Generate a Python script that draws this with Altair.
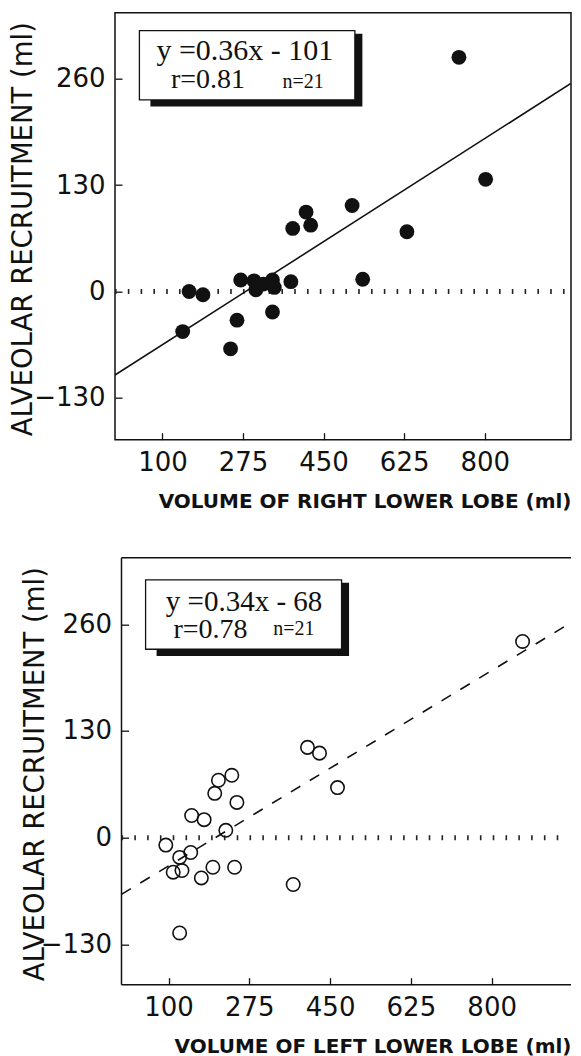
import altair as alt
import pandas as pd

# ---------------- data ----------------
x_ticks = [100, 275, 450, 625, 800]
y_ticks = [-130, 0, 130, 260]

# right lower lobe (top panel, filled dots)
rll_volume = [744, 802, 512, 412, 422, 383, 631, 270, 299, 303, 319,
              339, 343, 379, 535, 158, 188, 144, 262, 248, 339]
rll_recruit = [286, 137, 105, 97, 81, 77, 73, 14, 13, 2, 9,
               14, 5, 12, 15, 0, -4, -49, -35, -70, -25]
rll_fit_x = [-3, 987]
rll_fit_y = [-102, 254]

# left lower lobe (bottom panel, open circles)
lll_volume = [867, 401, 427, 466, 237, 208, 200, 248, 150, 177, 224,
              94, 148, 124, 110, 129, 171, 196, 243, 370, 124]
lll_recruit = [239, 110, 103, 61, 76, 70, 54, 43, 27, 22, 9,
               -9, -18, -24, -42, -40, -49, -36, -36, -57, -116]
lll_fit_x = [-2, 972]
lll_fit_y = [-69, 262]

rll_eq = ["y =0.36x - 101", "r=0.81", "n=21"]
lll_eq = ["y =0.34x - 68", "r=0.78", "n=21"]

H = 427
INK = "#111111"


def panel(vol, rec, fit_x, fit_y, xdom, xrange, ydom, width, zero_x, filled,
          dashed, xtitle, box, eq, eqpos, eqsize, ytitle_x, xtitle_x, axoff,
          guard, open_right):
    xs = alt.Scale(domain=xdom, range=xrange, nice=False, zero=False)
    ys = alt.Scale(domain=ydom, nice=False, zero=False)
    xax = alt.Axis(values=x_ticks, offset=-7, tickSize=7, labelPadding=10,
                   title=xtitle, titleX=xtitle_x, titleY=75, titleAlign="right",
                   titleBaseline="alphabetic", titleFontWeight="bold",
                   titleFontSize=20)
    yax = alt.Axis(values=y_ticks, offset=-axoff, tickSize=7, labelPadding=10,
                   title="ALVEOLAR RECRUITMENT (ml)", titleAngle=270,
                   titleX=ytitle_x, titleY=216, titleAlign="center",
                   titleBaseline="middle", titleFontWeight="normal",
                   titleFontSize=27.5)

    def X(f="v"):
        return alt.X(f"{f}:Q", scale=xs, axis=xax)

    def Y(f="r"):
        return alt.Y(f"{f}:Q", scale=ys, axis=yax)

    layers = []
    if guard is not None:
        layers.append(alt.Chart(pd.DataFrame({"a": [0]})).mark_rule(
            strokeOpacity=0, opacity=0).encode(
            x=alt.value(guard[0]), y=alt.value(guard[1]), y2=alt.value(guard[2])))

    # plot frame drawn on the data extent
    if open_right:
        hdf = pd.DataFrame({"v": [xdom[0], xdom[0]], "v2": [xdom[1], xdom[1]],
                            "r": [ydom[0], ydom[1]]})
        layers.append(alt.Chart(hdf).mark_rule(color=INK, strokeWidth=1.5).encode(
            x=X(), x2="v2:Q", y=Y()))
        vdf = pd.DataFrame({"v": [xdom[0]], "r": [ydom[0]], "r2": [ydom[1]]})
        layers.append(alt.Chart(vdf).mark_rule(color=INK, strokeWidth=1.5).encode(
            x=X(), y=Y(), y2="r2:Q"))
    else:
        frame_df = pd.DataFrame({"v": [xdom[0]], "v2": [xdom[1]],
                                 "r": [ydom[0]], "r2": [ydom[1]]})
        layers.append(alt.Chart(frame_df).mark_rect(
            fill=None, fillOpacity=0, stroke=INK, strokeWidth=1.5).encode(
            x=X(), x2="v2:Q", y=Y(), y2="r2:Q"))

    layers.append(alt.Chart(pd.DataFrame({"v": [zero_x[0]], "v2": [zero_x[1]],
                                          "r": [0]})).mark_rule(
        color="#222", strokeWidth=5, strokeDash=[1.6, 11.2]).encode(
        x=X(), x2="v2:Q", y=Y()))

    line_kw = dict(color=INK, strokeWidth=1.6, clip=True)
    if dashed:
        line_kw["strokeDash"] = [11, 11]
    layers.append(alt.Chart(pd.DataFrame({"v": fit_x, "r": fit_y})).mark_line(
        **line_kw).encode(x=X(), y=Y()))

    pts_df = pd.DataFrame({"v": vol, "r": rec})
    if filled:
        layers.append(alt.Chart(pts_df).mark_circle(
            size=220, color=INK, opacity=1).encode(x=X(), y=Y()))
    else:
        layers.append(alt.Chart(pts_df).mark_point(
            shape="circle", size=180, filled=False, color=INK, strokeWidth=1.6,
            opacity=1).encode(x=X(), y=Y()))

    box_df = pd.DataFrame({"v": [box[0]], "v2": [box[1]],
                           "r": [box[2]], "r2": [box[3]]})
    layers.append(alt.Chart(box_df).mark_rect(
        color=INK, xOffset=11, x2Offset=7.5, yOffset=3, y2Offset=6.7).encode(
        x=X(), x2="v2:Q", y=Y(), y2="r2:Q"))
    layers.append(alt.Chart(box_df).mark_rect(
        fill="white", stroke=INK, strokeWidth=1.3).encode(
        x=X(), x2="v2:Q", y=Y(), y2="r2:Q"))

    aligns = ["center", "left", "left"]
    for txt, pos, size, al in zip(eq, eqpos, eqsize, aligns):
        tdf = pd.DataFrame({"v": [pos[0]], "r": [pos[1]], "t": [txt]})
        layers.append(alt.Chart(tdf).mark_text(
            font="Liberation Serif", fontSize=size, align=al,
            baseline="alphabetic", color=INK).encode(
            x=X(), y=Y(), text="t:N"))

    return alt.layer(*layers).properties(width=width, height=H)


top = panel(rll_volume, rll_recruit, rll_fit_x, rll_fit_y,
            [-3, 987.4], [0, 456], [-181, 340.5], 456, [-3, 981], True, False,
            "VOLUME OF RIGHT LOWER LOBE (ml)",
            [50, 518, 318.5, 234],
            rll_eq, [(279, 282.7), (118.5, 248.2), (360.6, 248.5)], [30, 28, 20],
            -98.5, 456, 7, (-107, -3, H + 100), False)

bottom = panel(lll_volume, lll_recruit, lll_fit_x, lll_fit_y,
               [-2, 971.9], [6.5, 456], [-179, 341], 456, [-2, 966], False, True,
               "VOLUME OF LEFT LOWER LOBE (ml)",
               [50.2, 474.8, 314, 229.5],
               lll_eq, [(263.6, 276.5), (110.4, 243.1), (327, 247.2)], [29, 28, 20],
               -92.6, 456, 13.5, (-20, -5, H), True)

chart = alt.vconcat(top, bottom, spacing=13).properties(
    padding={"left": 0, "top": 1.7, "right": 0, "bottom": 0},
).configure_view(
    stroke=None
).configure_axis(
    labelFont="DejaVu Sans", labelFontSize=26, labelColor=INK,
    tickColor=INK, tickWidth=1.3, grid=False, domain=False,
    titleFont="DejaVu Sans", titleColor=INK
)

chart.save("out.html", embed_options={"renderer": "svg", "actions": False})
